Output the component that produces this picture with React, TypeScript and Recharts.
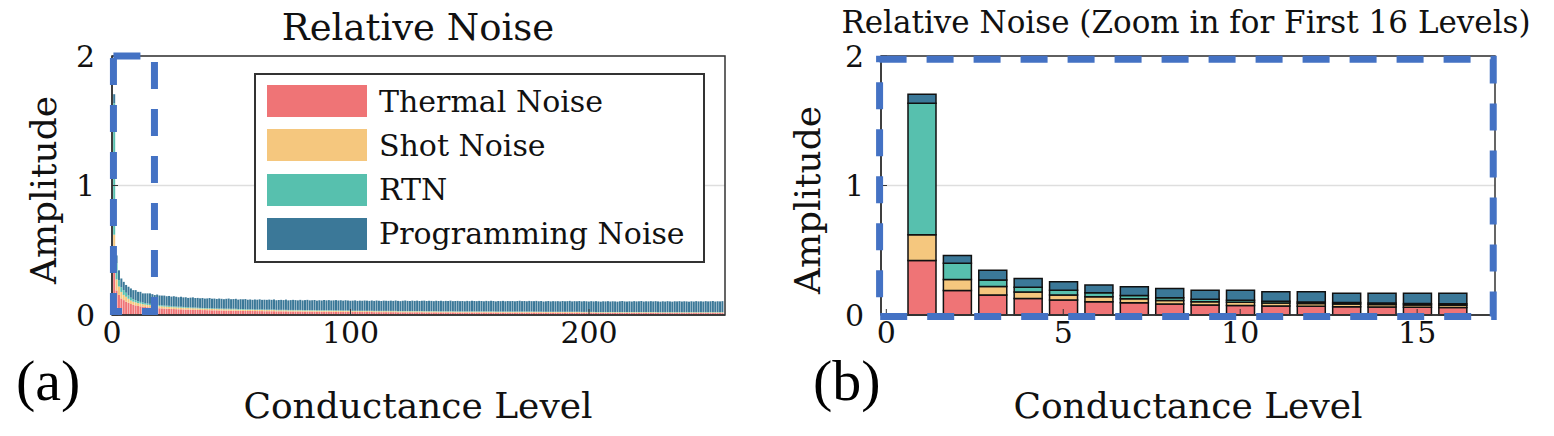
import React from "react";
import { Bar, BarChart, CartesianGrid, ReferenceArea, XAxis, YAxis } from "recharts";

// series, in stacking order (bottom to top)
const seriesNames = ["Thermal Noise", "Shot Noise", "RTN", "Programming Noise"];
const seriesKeys = ["thermal", "shot", "rtn", "prog"];
const seriesColors = ["#EF7476", "#F5C77E", "#57C0AE", "#3B7898"];

// relative noise amplitude per conductance level 1..256
const thermal = [
  0.42, 0.19, 0.155, 0.128, 0.115, 0.103, 0.095, 0.085, 0.078, 0.074, 0.07, 0.067, 0.064, 0.062, 0.06, 0.058,
  0.057, 0.055, 0.054, 0.052, 0.051, 0.05, 0.049, 0.048, 0.047, 0.046,
  0.045, 0.044, 0.044, 0.043, 0.042, 0.042, 0.041, 0.04, 0.04, 0.039,
  0.039, 0.038, 0.038, 0.037, 0.037, 0.036, 0.036, 0.036, 0.035, 0.035,
  0.034, 0.034, 0.034, 0.033, 0.033, 0.033, 0.032, 0.032, 0.032, 0.031,
  0.031, 0.031, 0.031, 0.03, 0.03, 0.03, 0.03, 0.029, 0.029, 0.029,
  0.029, 0.029, 0.028, 0.028, 0.028, 0.028, 0.028, 0.027, 0.027, 0.027,
  0.027, 0.027, 0.027, 0.026, 0.026, 0.026, 0.026, 0.026, 0.026, 0.025,
  0.025, 0.025, 0.025, 0.025, 0.025, 0.025, 0.024, 0.024, 0.024, 0.024,
  0.024, 0.024, 0.024, 0.024, 0.023, 0.023, 0.023, 0.023, 0.023, 0.023,
  0.023, 0.023, 0.023, 0.022, 0.022, 0.022, 0.022, 0.022, 0.022, 0.022,
  0.022, 0.022, 0.022, 0.021, 0.021, 0.021, 0.021, 0.021, 0.021, 0.021,
  0.021, 0.021, 0.021, 0.021, 0.02, 0.02, 0.02, 0.02, 0.02, 0.02,
  0.02, 0.02, 0.02, 0.02, 0.02, 0.02, 0.02, 0.019, 0.019, 0.019,
  0.019, 0.019, 0.019, 0.019, 0.019, 0.019, 0.019, 0.019, 0.019, 0.019,
  0.019, 0.019, 0.019, 0.019, 0.018, 0.018, 0.018, 0.018, 0.018, 0.018,
  0.018, 0.018, 0.018, 0.018, 0.018, 0.018, 0.018, 0.018, 0.018, 0.018,
  0.018, 0.018, 0.018, 0.018, 0.017, 0.017, 0.017, 0.017, 0.017, 0.017,
  0.017, 0.017, 0.017, 0.017, 0.017, 0.017, 0.017, 0.017, 0.017, 0.017,
  0.017, 0.017, 0.017, 0.017, 0.017, 0.017, 0.016, 0.016, 0.016, 0.016,
  0.016, 0.016, 0.016, 0.016, 0.016, 0.016, 0.016, 0.016, 0.016, 0.016,
  0.016, 0.016, 0.016, 0.016, 0.016, 0.016, 0.016, 0.016, 0.016, 0.016,
  0.016, 0.016, 0.015, 0.015, 0.015, 0.015, 0.015, 0.015, 0.015, 0.015,
  0.015, 0.015, 0.015, 0.015, 0.015, 0.015, 0.015, 0.015, 0.015, 0.015,
  0.015, 0.015, 0.015, 0.015, 0.015, 0.015, 0.015, 0.015, 0.015, 0.015,
];

const shot = [
  0.2, 0.085, 0.065, 0.05, 0.04, 0.038, 0.03, 0.027, 0.025, 0.024, 0.022, 0.021, 0.02, 0.019, 0.018, 0.018,
  0.018, 0.017, 0.017, 0.016, 0.016, 0.015, 0.015, 0.015, 0.014, 0.014,
  0.014, 0.013, 0.013, 0.013, 0.013, 0.012, 0.012, 0.012, 0.012, 0.012,
  0.011, 0.011, 0.011, 0.011, 0.011, 0.011, 0.01, 0.01, 0.01, 0.01,
  0.01, 0.01, 0.01, 0.01, 0.01, 0.01, 0.009, 0.009, 0.009, 0.009,
  0.009, 0.009, 0.009, 0.009, 0.009, 0.009, 0.009, 0.009, 0.009, 0.009,
  0.009, 0.009, 0.008, 0.008, 0.008, 0.008, 0.008, 0.008, 0.008, 0.008,
  0.008, 0.008, 0.008, 0.008, 0.008, 0.008, 0.008, 0.008, 0.008, 0.008,
  0.008, 0.008, 0.008, 0.008, 0.008, 0.008, 0.008, 0.008, 0.008, 0.008,
  0.008, 0.008, 0.008, 0.008, 0.007, 0.007, 0.007, 0.007, 0.007, 0.007,
  0.007, 0.007, 0.007, 0.007, 0.007, 0.007, 0.007, 0.007, 0.007, 0.007,
  0.007, 0.007, 0.007, 0.007, 0.007, 0.007, 0.007, 0.007, 0.007, 0.007,
  0.007, 0.007, 0.007, 0.007, 0.007, 0.007, 0.007, 0.007, 0.007, 0.007,
  0.006, 0.006, 0.006, 0.006, 0.006, 0.006, 0.006, 0.006, 0.006, 0.006,
  0.006, 0.006, 0.006, 0.006, 0.006, 0.006, 0.006, 0.006, 0.006, 0.006,
  0.006, 0.006, 0.006, 0.006, 0.006, 0.006, 0.006, 0.006, 0.006, 0.006,
  0.006, 0.006, 0.006, 0.006, 0.006, 0.006, 0.006, 0.006, 0.006, 0.006,
  0.006, 0.006, 0.006, 0.006, 0.006, 0.006, 0.006, 0.006, 0.006, 0.006,
  0.006, 0.006, 0.006, 0.006, 0.006, 0.006, 0.006, 0.006, 0.006, 0.006,
  0.005, 0.005, 0.005, 0.005, 0.005, 0.005, 0.005, 0.005, 0.005, 0.005,
  0.005, 0.005, 0.005, 0.005, 0.005, 0.005, 0.005, 0.005, 0.005, 0.005,
  0.005, 0.005, 0.005, 0.005, 0.005, 0.005, 0.005, 0.005, 0.005, 0.005,
  0.005, 0.005, 0.005, 0.005, 0.005, 0.005, 0.005, 0.005, 0.005, 0.005,
  0.005, 0.005, 0.005, 0.005, 0.005, 0.005, 0.005, 0.005, 0.005, 0.005,
  0.005, 0.005, 0.005, 0.005, 0.005, 0.005, 0.005, 0.005, 0.005, 0.005,
];

const rtn = [
  1.015, 0.125, 0.05, 0.036, 0.037, 0.031, 0.025, 0.022, 0.018, 0.016, 0.015, 0.013, 0.012, 0.011, 0.01, 0.01,
  0.01, 0.009, 0.009, 0.009, 0.008, 0.008, 0.008, 0.008, 0.007, 0.007,
  0.007, 0.007, 0.007, 0.006, 0.006, 0.006, 0.006, 0.006, 0.006, 0.005,
  0.005, 0.005, 0.005, 0.005, 0.005, 0.005, 0.005, 0.005, 0.005, 0.005,
  0.005, 0.005, 0.005, 0.005, 0.005, 0.005, 0.005, 0.005, 0.005, 0.005,
  0.004, 0.004, 0.004, 0.004, 0.004, 0.004, 0.004, 0.004, 0.004, 0.004,
  0.004, 0.004, 0.004, 0.004, 0.004, 0.004, 0.004, 0.004, 0.004, 0.004,
  0.004, 0.004, 0.004, 0.004, 0.004, 0.004, 0.004, 0.004, 0.004, 0.004,
  0.004, 0.004, 0.004, 0.004, 0.004, 0.004, 0.004, 0.004, 0.004, 0.004,
  0.003, 0.003, 0.003, 0.003, 0.003, 0.003, 0.003, 0.003, 0.003, 0.003,
  0.003, 0.003, 0.003, 0.003, 0.003, 0.003, 0.003, 0.003, 0.003, 0.003,
  0.003, 0.003, 0.003, 0.003, 0.003, 0.003, 0.003, 0.003, 0.003, 0.003,
  0.003, 0.003, 0.003, 0.003, 0.003, 0.003, 0.003, 0.003, 0.003, 0.003,
  0.003, 0.003, 0.003, 0.003, 0.003, 0.003, 0.003, 0.003, 0.003, 0.003,
  0.003, 0.003, 0.003, 0.003, 0.003, 0.003, 0.003, 0.003, 0.003, 0.003,
  0.003, 0.003, 0.003, 0.003, 0.003, 0.003, 0.003, 0.003, 0.003, 0.003,
  0.003, 0.003, 0.003, 0.003, 0.003, 0.003, 0.003, 0.003, 0.003, 0.003,
  0.002, 0.002, 0.002, 0.002, 0.002, 0.002, 0.002, 0.002, 0.002, 0.002,
  0.002, 0.002, 0.002, 0.002, 0.002, 0.002, 0.002, 0.002, 0.002, 0.002,
  0.002, 0.002, 0.002, 0.002, 0.002, 0.002, 0.002, 0.002, 0.002, 0.002,
  0.002, 0.002, 0.002, 0.002, 0.002, 0.002, 0.002, 0.002, 0.002, 0.002,
  0.002, 0.002, 0.002, 0.002, 0.002, 0.002, 0.002, 0.002, 0.002, 0.002,
  0.002, 0.002, 0.002, 0.002, 0.002, 0.002, 0.002, 0.002, 0.002, 0.002,
  0.002, 0.002, 0.002, 0.002, 0.002, 0.002, 0.002, 0.002, 0.002, 0.002,
  0.002, 0.002, 0.002, 0.002, 0.002, 0.002, 0.002, 0.002, 0.002, 0.002,
];

const prog = [
  0.07, 0.06, 0.075, 0.068, 0.064, 0.06, 0.068, 0.071, 0.071, 0.078, 0.072, 0.078, 0.071, 0.075, 0.079, 0.081,
  0.076, 0.073, 0.078, 0.074, 0.075, 0.077, 0.073, 0.076, 0.074, 0.078,
  0.075, 0.073, 0.077, 0.074, 0.076, 0.072, 0.075, 0.078, 0.073, 0.076,
  0.074, 0.077, 0.073, 0.075, 0.078, 0.074, 0.076, 0.073, 0.077, 0.075,
  0.073, 0.076, 0.078, 0.074, 0.075, 0.077, 0.073, 0.076, 0.075, 0.078,
  0.074, 0.076, 0.073, 0.077, 0.075, 0.078, 0.074, 0.076, 0.075, 0.077,
  0.075, 0.078, 0.074, 0.076, 0.077, 0.075, 0.079, 0.074, 0.076, 0.078,
  0.076, 0.074, 0.078, 0.075, 0.077, 0.079, 0.075, 0.076, 0.078, 0.074,
  0.077, 0.075, 0.079, 0.076, 0.078, 0.075, 0.077, 0.079, 0.076, 0.078,
  0.076, 0.079, 0.077, 0.075, 0.078, 0.08, 0.076, 0.078, 0.077, 0.079,
  0.078, 0.076, 0.079, 0.077, 0.08, 0.078, 0.076, 0.079, 0.078, 0.077,
  0.079, 0.077, 0.08, 0.078, 0.076, 0.079, 0.081, 0.078, 0.077, 0.08,
  0.078, 0.08, 0.077, 0.079, 0.081, 0.078, 0.08, 0.079, 0.077, 0.08,
  0.079, 0.081, 0.078, 0.08, 0.079, 0.082, 0.078, 0.08, 0.081, 0.079,
  0.08, 0.078, 0.081, 0.079, 0.082, 0.08, 0.079, 0.081, 0.08, 0.078,
  0.081, 0.079, 0.082, 0.08, 0.078, 0.081, 0.08, 0.082, 0.079, 0.081,
  0.08, 0.082, 0.079, 0.081, 0.083, 0.08, 0.081, 0.079, 0.082, 0.08,
  0.081, 0.083, 0.08, 0.082, 0.079, 0.081, 0.083, 0.08, 0.082, 0.081,
  0.082, 0.08, 0.083, 0.081, 0.082, 0.084, 0.08, 0.082, 0.081, 0.083,
  0.081, 0.083, 0.082, 0.08, 0.083, 0.081, 0.084, 0.082, 0.08, 0.083,
  0.082, 0.084, 0.081, 0.083, 0.082, 0.08, 0.083, 0.085, 0.082, 0.081,
  0.083, 0.081, 0.084, 0.082, 0.083, 0.085, 0.081, 0.083, 0.082, 0.084,
  0.082, 0.084, 0.083, 0.081, 0.084, 0.082, 0.085, 0.083, 0.081, 0.084,
  0.083, 0.085, 0.082, 0.084, 0.083, 0.081, 0.084, 0.082, 0.085, 0.083,
  0.084, 0.082, 0.085, 0.083, 0.084, 0.086, 0.082, 0.084, 0.083, 0.085,
];

const leftTicks = [0, 100, 200];
const rightTicks = [0, 5, 10, 15];
const yTicks = [0, 1, 2];
const zoomLevels = 16;

const rows = thermal.map((t, i) => ({ level: i + 1, thermal: t, shot: shot[i], rtn: rtn[i], prog: prog[i] }));
const zoomRows = rows.slice(0, zoomLevels);

const CM = "'DejaVu Serif', serif";
const TIMES = "'Liberation Serif', 'Times New Roman', serif";
const AX = { stroke: "#333", strokeWidth: 1.5 };
const DASH = "#4472C4";

function Panel({ data, width, left, right, domain, ticks, barSize, outline, zoom }) {
  return (
    <BarChart
      width={width}
      height={436}
      data={data}
      margin={{ top: 56, right, bottom: 81, left }}
      barGap={0}
    >
      <CartesianGrid xAxisId="b" yAxisId="l" vertical={false} stroke="#dedede" strokeWidth={1.5} />
      <XAxis
        xAxisId="b"
        type="number"
        dataKey="level"
        domain={domain}
        ticks={ticks}
        allowDataOverflow
        interval={0}
        height={40}
        tickSize={-6}
        tickMargin={13}
        axisLine={AX}
        tickLine={{ stroke: "#333" }}
        tick={{ fill: "#111", fontSize: 30, fontFamily: CM }}
      />
      <XAxis
        xAxisId="t"
        orientation="top"
        type="number"
        dataKey="level"
        domain={domain}
        ticks={ticks}
        allowDataOverflow
        height={0}
        tickSize={-6}
        axisLine={AX}
        tickLine={{ stroke: "#333" }}
        tick={false}
      />
      <YAxis
        yAxisId="l"
        domain={[0, 2]}
        ticks={yTicks}
        width={40}
        tickSize={-6}
        tickMargin={23}
        axisLine={AX}
        tickLine={{ stroke: "#333" }}
        tick={{ fill: "#111", fontSize: 30, fontFamily: CM }}
      />
      <YAxis
        yAxisId="r"
        orientation="right"
        domain={[0, 2]}
        ticks={yTicks}
        width={0}
        tickSize={-6}
        axisLine={AX}
        tickLine={{ stroke: "#333" }}
        tick={false}
      />
      {seriesKeys.map((k, i) => (
        <Bar
          key={k}
          xAxisId="b"
          yAxisId="l"
          dataKey={k}
          name={seriesNames[i]}
          stackId="noise"
          fill={seriesColors[i]}
          barSize={barSize}
          stroke={outline ? "#111" : "none"}
          strokeWidth={outline ? 1.5 : 0}
          isAnimationActive={false}
        />
      ))}
      {/* axes box */}
      <ReferenceArea
        xAxisId="b"
        yAxisId="l"
        x1={domain[0]}
        x2={domain[1]}
        y1={0}
        y2={2}
        ifOverflow="visible"
        fill="none"
        stroke="#333"
        strokeWidth={1.5}
        zIndex={1500}
      />
      {/* zoom region */}
      <ReferenceArea
        xAxisId="b"
        yAxisId="l"
        x1={zoom[0]}
        x2={zoom[1]}
        y1={zoom[2]}
        y2={zoom[3]}
        ifOverflow="visible"
        fill="none"
        stroke={DASH}
        strokeWidth={7}
        strokeDasharray="27 20"
        zIndex={2000}
      />
    </BarChart>
  );
}

function Legend() {
  return (
    <div
      style={{
        position: "absolute",
        left: 254,
        top: 73,
        width: 451,
        height: 190,
        boxSizing: "border-box",
        border: "2px solid #333",
        background: "#fff",
      }}
    >
      {seriesNames.map((n, i) => (
        <div key={n} style={{ position: "absolute", left: 11, top: 10 + i * 44.3, height: 32, display: "flex", alignItems: "center" }}>
          <div style={{ width: 100, height: 32, background: seriesColors[i] }} />
          <span style={{ marginLeft: 12, fontFamily: CM, fontSize: 30, color: "#111", whiteSpace: "nowrap" }}>{n}</span>
        </div>
      ))}
    </div>
  );
}

export default function App() {
  return (
    <div style={{ position: "fixed", left: 0, top: 0, width: 1554, height: 436, background: "#fff", overflow: "hidden" }}>
      <div style={{ position: "absolute", left: 0, top: 0 }}>
        <Panel data={rows} width={780} left={72} right={55} domain={[0, 257]} ticks={leftTicks} barSize={2} outline={false} zoom={[0.6, 17.8, 0.027, 2]} />
      </div>
      <div style={{ position: "absolute", left: 780, top: 0 }}>
        <Panel data={zoomRows} width={774} left={61} right={59} domain={[-0.15, 17.2]} ticks={rightTicks} barSize={28} outline zoom={[-0.19, 17.15, -0.012, 1.975]} />
      </div>
      <Legend />
      <svg width={1554} height={436} style={{ position: "absolute", left: 0, top: 0, pointerEvents: "none" }}>
        <g fill="#111" fontFamily={CM}>
          <text x={418} y={40} fontSize={37} textAnchor="middle">Relative Noise</text>
          <text x={1186} y={33} fontSize={31} textAnchor="middle">Relative Noise (Zoom in for First 16 Levels)</text>
          <text x={418} y={418} fontSize={36} textAnchor="middle">Conductance Level</text>
          <text x={1188} y={418} fontSize={36} textAnchor="middle">Conductance Level</text>
          <text transform="translate(56,190) rotate(-90)" fontSize={36} textAnchor="middle">Amplitude</text>
          <text transform="translate(820,200) rotate(-90)" fontSize={36} textAnchor="middle">Amplitude</text>
        </g>
        <g fill="#000" fontFamily={TIMES} fontSize={58}>
          <text x={16} y={400}>(a)</text>
          <text x={813} y={400}>(b)</text>
        </g>
      </svg>
    </div>
  );
}
